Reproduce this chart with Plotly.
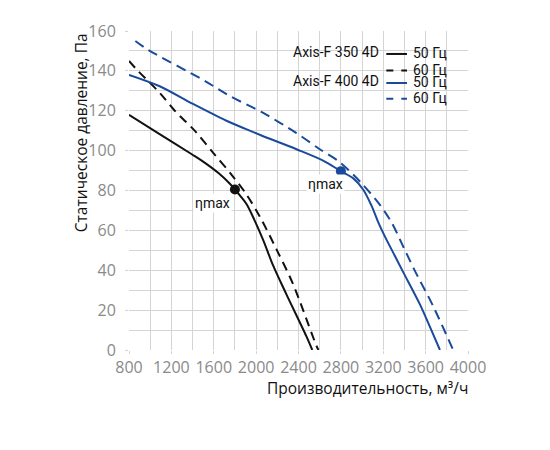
import plotly.graph_objects as go

# Axis-F 350 4D, 50 Hz
q350_50 = [800, 1074, 1389, 1500, 1650, 1750, 1800, 1850, 1909, 1971, 2065, 2160, 2286, 2475, 2530]
p350_50 = [118, 108.8, 98.3, 94.5, 88.5, 83.5, 80.5, 77.3, 73.2, 66.7, 55.4, 42.4, 27.9, 6.8, 0]

# Axis-F 350 4D, 60 Hz
q350_60 = [800, 885, 1090, 1232, 1420, 1593, 1767, 1909, 2034, 2192, 2349, 2570, 2588]
p350_60 = [145, 140, 129, 120, 110, 99, 88, 78, 67, 50.5, 33, 2, 0]

# Axis-F 400 4D, 50 Hz
q400_50 = [800, 1090, 1404, 1720, 1900, 2050, 2381, 2632, 2800, 2915, 3010, 3089, 3151, 3215, 3309, 3387, 3545, 3640, 3735]
p400_50 = [138, 132.3, 123.4, 115, 110.9, 107.6, 100.7, 95, 89.7, 86.2, 80.5, 72.4, 64.3, 57, 47.3, 39.2, 23, 11.7, 0]

# Axis-F 400 4D, 60 Hz
q400_60 = [860, 979, 1499, 1751, 2050, 2381, 2601, 2790, 2994, 3167, 3278, 3394, 3488, 3671, 3860]
p400_60 = [155, 150.6, 135.5, 127.4, 119.4, 108.8, 100.7, 94.2, 83.7, 72.9, 64, 51.3, 40.8, 22, 0]

# max efficiency points
eta_q = [1800, 2800]
eta_p = [80.5, 89.7]

BLACK = "#111111"
BLUE = "#1a4b9b"
GRID = "#d4d4d4"

fig = go.Figure()
fig.add_trace(go.Scatter(x=q350_50, y=p350_50, mode="lines", line=dict(color=BLACK, width=2, shape="spline", smoothing=0.9)))
fig.add_trace(go.Scatter(x=q350_60, y=p350_60, mode="lines", line=dict(color=BLACK, width=2, dash="9px,6px", shape="spline", smoothing=0.9)))
fig.add_trace(go.Scatter(x=q400_50, y=p400_50, mode="lines", line=dict(color=BLUE, width=2, shape="spline", smoothing=0.9)))
fig.add_trace(go.Scatter(x=q400_60, y=p400_60, mode="lines", line=dict(color=BLUE, width=2, dash="10px,6px", shape="spline", smoothing=0.9)))
fig.add_trace(go.Scatter(x=eta_q, y=eta_p, mode="markers", marker=dict(color=[BLACK, BLUE], size=10)))

# eta labels
for q, p, dx in zip(eta_q, eta_p, [-22, -15]):
    fig.add_annotation(x=q, y=p, text="\u03b7max", showarrow=False, xshift=dx, yshift=-13,
                       bgcolor="white", font=dict(family="Roboto", size=14, color="#111"))

# legend block (white backing + text + line samples)
fig.add_shape(type="rect", xref="paper", yref="paper", x0=0.474, x1=0.946, y0=0.767, y1=0.9645,
              fillcolor="white", line=dict(width=0), layer="between")
leg_font = dict(family="Roboto", size=14, color="#111")
rows = [(0.928, "Axis-F 350 4D", BLACK, "solid", "50 Гц"),
        (0.876, None, BLACK, "7px,8px", "60 Гц"),
        (0.837, "Axis-F 400 4D", BLUE, "solid", "50 Гц"),
        (0.788, None, BLUE, "7px,8px", "60 Гц")]
for y, name, col, dash, hz in rows:
    if name:
        fig.add_annotation(xref="paper", yref="paper", x=0.7395, y=y + 0.005, text=name, showarrow=False,
                           xanchor="right", yanchor="middle", font=leg_font, borderpad=0)
    fig.add_shape(type="line", xref="paper", yref="paper", x0=0.759, x1=0.820, y0=y, y1=y,
                  line=dict(color=col, width=2, dash=dash))
    fig.add_annotation(xref="paper", yref="paper", x=0.834, y=y + 0.002, text=hz, showarrow=False,
                       xanchor="left", yanchor="middle", font=leg_font, borderpad=0)

# axis titles
fig.add_annotation(xref="paper", yref="paper", x=1.005, y=-0.119, text="Производительность, м³/ч",
                   showarrow=False, xanchor="right", yanchor="middle",
                   font=dict(family="Open Sans", size=15.5, color="#111"))
fig.add_annotation(xref="paper", yref="paper", x=-0.1425, y=1.0, text="Статическое давление, Па",
                   showarrow=False, xanchor="center", yanchor="top", textangle=-90,
                   font=dict(family="Open Sans", size=15.5, color="#111"))

tickfont = dict(family="Open Sans", size=16, color="#8a8a8a")
fig.update_xaxes(range=[800, 4000], tick0=800, dtick=400, showgrid=True, gridcolor=GRID, gridwidth=1,
                 minor=dict(dtick=200, showgrid=True, gridcolor=GRID, gridwidth=1),
                 zeroline=False, showline=False, ticks="outside", ticklen=3, tickcolor=GRID,
                 tickfont=tickfont)
fig.update_yaxes(range=[0, 160], dtick=20, showgrid=True, gridcolor=GRID, gridwidth=1,
                 minor=dict(dtick=10, showgrid=True, gridcolor=GRID, gridwidth=1),
                 zeroline=False, showline=False, ticks="outside", ticklen=3, tickcolor=GRID,
                 tickfont=tickfont, ticklabelstandoff=6)

# page body adds an 8px offset, so margins are shifted to compensate
fig.update_layout(width=550, height=450, margin=dict(l=121, r=90, t=13, b=108),
                  plot_bgcolor="white", paper_bgcolor="white", showlegend=False)

fig.write_html("out.html")
